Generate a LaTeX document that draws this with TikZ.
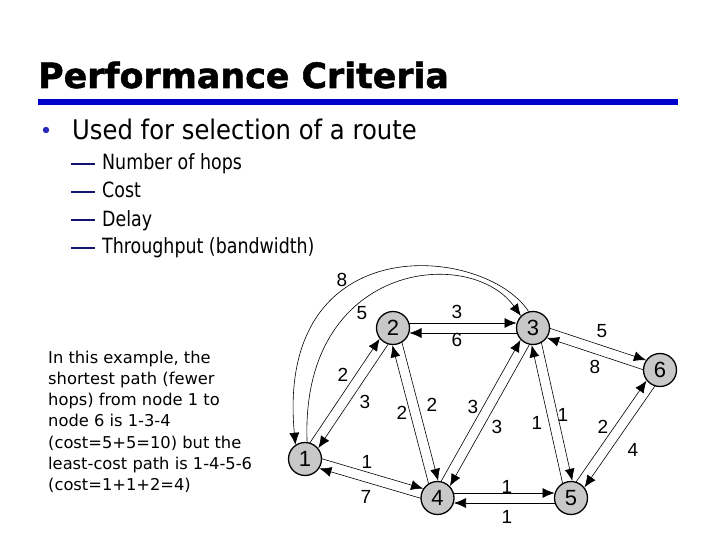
\documentclass[tikz,border=0pt]{standalone}
\usepackage{fontspec}
\usetikzlibrary{arrows.meta,calc}
\setmainfont{Liberation Sans}
\newfontfamily\titlefont[FakeBold=1.5]{DejaVu Sans Bold}
\newfontfamily\bulletfont[FakeStretch=0.9]{DejaVu Sans}
\newfontfamily\subfont[FakeStretch=0.83]{DejaVu Sans}
\newfontfamily\parafont{DejaVu Sans}
\definecolor{barblue}{RGB}{0,0,204}
\definecolor{dotblue}{RGB}{40,40,190}
\definecolor{navydash}{RGB}{20,20,110}
\definecolor{nodegray}{RGB}{200,200,200}
\newcommand{\diredge}[2]{\draw[edgeline] ($(#1)!5pt!90:(#2)$) -- ($(#2)!5pt!-90:(#1)$);}
\begin{document}
\begin{tikzpicture}[x=1pt,y=-1pt,
  gnode/.style={circle, draw=black, line width=1.3pt, fill=nodegray, minimum size=33pt, inner sep=0pt, font=\fontsize{22}{22}\selectfont},
  elabel/.style={inner sep=0pt, font=\fontsize{19}{19}\selectfont},
  edgeline/.style={line width=0.6pt, -{Latex[length=12pt,width=10pt]}, shorten <=16pt, shorten >=16.5pt},
  arcline/.style={line width=0.6pt, -{Latex[length=12pt,width=10pt]}},
  txt/.style={inner sep=0pt, anchor=base west},
  paraline/.style={txt, font=\parafont\fontsize{16.3}{16.3}\selectfont},
  subline/.style={txt, font=\subfont\fontsize{21}{21}\selectfont},
]
\useasboundingbox (0,0) rectangle (720,540);
\fill[white] (0,0) rectangle (720,540);

% title
\node[txt, font=\titlefont\fontsize{34.8}{34.8}\selectfont] (title) at (38,88) {Performance Criteria};
\fill[barblue] (38,99) rectangle (678,105);

% bullet
\fill[dotblue] (46,130) circle (3.2);
\node[txt, font=\bulletfont\fontsize{27}{27}\selectfont] (b1) at (72,140) {Used for selection of a route};

% sub items
\foreach \yy/\tt [count=\i] in {170/Number of hops, 198/Cost, 226/Delay, 254/Throughput (bandwidth)}{
  \fill[navydash] (71,{\yy-7.2}) rectangle (95,{\yy-5.4});
  \node[subline] (s\i) at (102,\yy) {\tt};
}

% paragraph
\node[paraline] (p1) at (48,363) {In this example, the};
\node[paraline] (p2) at (48,384.3) {shortest path (fewer};
\node[paraline] (p3) at (48,405.6) {hops) from node 1 to};
\node[paraline] (p4) at (48,426.9) {node 6 is 1-3-4};
\node[paraline] (p5) at (48,448.2) {(cost=5+5=10) but the};
\node[paraline] (p6) at (48,469.5) {least-cost path is 1-4-5-6};
\node[paraline] (p7) at (48,490.8) {(cost=1+1+2=4)};

% graph nodes
\node[gnode] (n1) at (305,459) {1};
\node[gnode] (n2) at (393,328) {2};
\node[gnode] (n3) at (533,328) {3};
\node[gnode] (n4) at (437.5,498) {4};
\node[gnode] (n5) at (571,498) {5};
\node[gnode] (n6) at (660,370) {6};

% edges
\diredge{n1}{n2}
\diredge{n2}{n1}
\diredge{n2}{n3}
\diredge{n3}{n2}
\diredge{n2}{n4}
\diredge{n4}{n2}
\diredge{n3}{n4}
\diredge{n4}{n3}
\diredge{n3}{n5}
\diredge{n5}{n3}
\diredge{n3}{n6}
\diredge{n6}{n3}
\diredge{n5}{n6}
\diredge{n6}{n5}
\diredge{n1}{n4}
\diredge{n4}{n1}
\diredge{n4}{n5}
\diredge{n5}{n4}

% arcs between 1 and 3
\coordinate (oa1) at (485,245);
\coordinate (oa2) at (275,225);
\coordinate (ia1) at (300,262);
\coordinate (ia2) at (470,245);
\draw[arcline] (n3.105) .. controls (oa1) and (oa2) .. (n1.124);
\draw[arcline] (n1.83) .. controls (ia1) and (ia2) .. (n3.135);

% edge labels
\node[elabel] (l31) at (342,280) {8};
\node[elabel] (l13) at (362,313) {5};
\node[elabel] (l23) at (457,312) {3};
\node[elabel] (l32) at (457,340) {6};
\node[elabel] (l36) at (602,331) {5};
\node[elabel] (l63) at (595,367) {8};
\node[elabel] (l12) at (343,375) {2};
\node[elabel] (l21) at (365,402) {3};
\node[elabel] (l42) at (402,413) {2};
\node[elabel] (l24) at (432,405) {2};
\node[elabel] (l43) at (473,407) {3};
\node[elabel] (l34) at (497,427) {3};
\node[elabel] (l53) at (537,423) {1};
\node[elabel] (l35) at (563,415) {1};
\node[elabel] (l56) at (603,427) {2};
\node[elabel] (l65) at (633,450) {4};
\node[elabel] (l14) at (367,462) {1};
\node[elabel] (l41) at (366,497) {7};
\node[elabel] (l45) at (507,487) {1};
\node[elabel] (l54) at (507,517) {1};
\end{tikzpicture}
\end{document}
